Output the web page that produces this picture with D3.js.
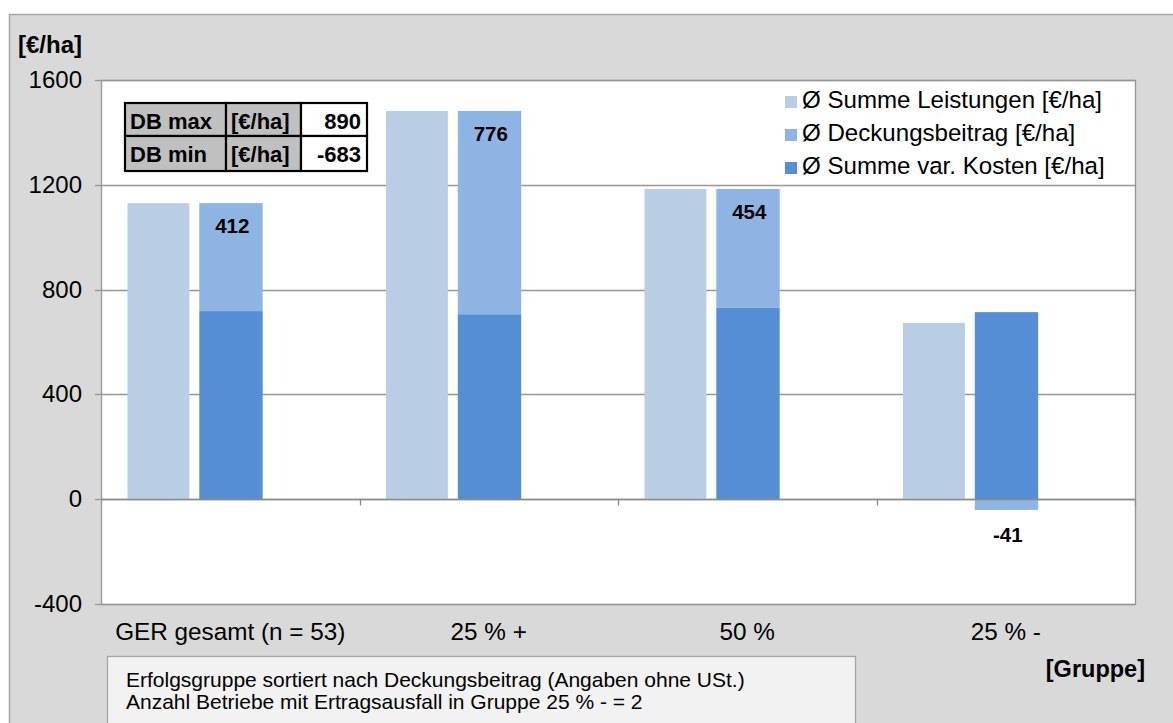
<!DOCTYPE html>
<html><head><meta charset="utf-8">
<script src="https://cdn.jsdelivr.net/npm/d3@7"></script>
<style>
body{margin:0;background:#fff}
svg{display:block}
text{font-family:"Liberation Sans",Arial,sans-serif}
</style>
</head><body>
<svg id="chart" width="1173" height="723"></svg>
<script>
// Erfolgsgruppen und Mittelwerte je Gruppe [€/ha]
const groups = ["GER gesamt (n = 53)", "25 % +", "50 %", "25 % -"];
const leistungen = [1130, 1482, 1184, 673];
const kosten = [718, 706, 730, 714];
const deckungsbeitrag = [412, 776, 454, -41];
const yTicks = [-400, 0, 400, 800, 1200, 1600];
const seriesNames = ["Ø Summe Leistungen [€/ha]", "Ø Deckungsbeitrag [€/ha]", "Ø Summe var. Kosten [€/ha]"];
const seriesColors = ["#b9cde5", "#8eb4e3", "#558ed5"];
const dbTable = [["DB max", "[€/ha]", "890"], ["DB min", "[€/ha]", "-683"]];
const notes = ["Erfolgsgruppe sortiert nach Deckungsbeitrag (Angaben ohne USt.)",
               "Anzahl Betriebe mit Ertragsausfall in Gruppe 25 % - = 2"];

const svg = d3.select("#chart");
const plot = {left: 101, right: 1135, top: 80, bottom: 604};

// Chart background frame
svg.append("rect").attr("x", 9.5).attr("y", 14.5).attr("width", 1200).attr("height", 760)
  .attr("fill", "#d9d9d9").attr("stroke", "#a6a6a6").attr("stroke-width", 1.5);
svg.append("rect").attr("x", plot.left).attr("y", plot.top)
  .attr("width", plot.right - plot.left).attr("height", plot.bottom - plot.top)
  .attr("fill", "#fff");

const x = d3.scaleBand().domain(groups).range([plot.left, plot.right]).padding(0);
const slot = d3.scaleBand().domain(["L", "S", "E"]).range([0, x.bandwidth()])
  .paddingInner(0.15).paddingOuter(0.35);
const y = d3.scaleLinear().domain([-400, 1600]).range([plot.bottom, plot.top]);

// Horizontal gridlines
svg.append("g").selectAll("line").data(yTicks).join("line")
  .attr("x1", plot.left).attr("x2", plot.right)
  .attr("y1", d => Math.round(y(d)) + 0.5).attr("y2", d => Math.round(y(d)) + 0.5)
  .attr("stroke", "#969696").attr("stroke-width", 1.3);

// Leistungen bars
svg.append("g").selectAll("rect").data(groups).join("rect")
  .attr("x", g => x(g) + slot("L") + 1).attr("width", slot.bandwidth())
  .attr("y", (g, i) => y(leistungen[i]))
  .attr("height", (g, i) => y(0) - y(leistungen[i]))
  .attr("fill", seriesColors[0]);

// Stacked Kosten + Deckungsbeitrag
const rows = groups.map((g, i) => ({group: g, kosten: kosten[i], db: deckungsbeitrag[i]}));
const stacked = d3.stack().keys(["kosten", "db"]).offset(d3.stackOffsetDiverging)(rows);
const stackColors = {kosten: seriesColors[2], db: seriesColors[1]};
svg.append("g").selectAll("g").data(stacked).join("g")
  .attr("fill", s => stackColors[s.key])
  .selectAll("rect").data(s => s).join("rect")
  .attr("x", d => x(d.data.group) + slot("S")).attr("width", slot.bandwidth() + 1.5)
  .attr("y", d => y(Math.max(d[0], d[1])))
  .attr("height", d => Math.abs(y(d[0]) - y(d[1])));

// Deckungsbeitrag labels
const dbSeries = stacked.find(s => s.key === "db");
svg.append("g").selectAll("text").data(dbSeries).join("text")
  .attr("x", d => x(d.data.group) + slot("S") + slot.bandwidth() / 2 + 2)
  .attr("y", d => d.data.db >= 0 ? y(d[1]) + 30 : y(d[0]) + 32)
  .attr("text-anchor", "middle").attr("font-size", 20.5).attr("font-weight", "bold")
  .text(d => d.data.db);

// Plot border and zero axis
svg.append("rect").attr("x", plot.left + 0.5).attr("y", plot.top + 0.5)
  .attr("width", plot.right - plot.left).attr("height", plot.bottom - plot.top)
  .attr("fill", "none").attr("stroke", "#969696").attr("stroke-width", 1.3);
const zeroY = Math.round(y(0)) + 0.5;
svg.append("line").attr("x1", plot.left).attr("x2", plot.right)
  .attr("y1", zeroY).attr("y2", zeroY).attr("stroke", "#8c8c8c").attr("stroke-width", 1.5);

// Category tick marks on zero line
const bounds = groups.map(g => x(g)).concat([plot.right]);
svg.append("g").selectAll("line").data(bounds.slice(1)).join("line")
  .attr("x1", d => Math.round(d) + 0.5).attr("x2", d => Math.round(d) + 0.5)
  .attr("y1", zeroY).attr("y2", zeroY + 6).attr("stroke", "#8c8c8c").attr("stroke-width", 1.3);

// Y axis ticks and labels
const yAxis = svg.append("g");
yAxis.selectAll("line").data(yTicks).join("line")
  .attr("x1", plot.left - 6).attr("x2", plot.left)
  .attr("y1", d => Math.round(y(d)) + 0.5).attr("y2", d => Math.round(y(d)) + 0.5)
  .attr("stroke", "#969696").attr("stroke-width", 1.3);
yAxis.selectAll("text").data(yTicks).join("text")
  .attr("x", 82).attr("y", d => y(d) + 8)
  .attr("text-anchor", "end").attr("font-size", 24).text(d => d);
svg.append("text").attr("x", 18).attr("y", 53).attr("font-size", 24)
  .attr("font-weight", "bold").text("[€/ha]");

// Category labels
svg.append("g").selectAll("text").data(groups).join("text")
  .attr("x", g => x(g) + x.bandwidth() / 2).attr("y", 640)
  .attr("text-anchor", "middle").attr("font-size", 24.3).text(g => g);
svg.append("text").attr("x", 1145).attr("y", 677).attr("text-anchor", "end")
  .attr("font-size", 23.5).attr("font-weight", "bold").text("[Gruppe]");

// Legend
const legend = svg.append("g").selectAll("g").data(seriesNames).join("g")
  .attr("transform", (d, i) => `translate(785, ${108 + i * 33})`);
legend.append("rect").attr("x", 0).attr("y", -12).attr("width", 12).attr("height", 12)
  .attr("fill", (d, i) => seriesColors[i]);
legend.append("text").attr("x", 17).attr("y", 0).attr("font-size", 24.1).text(d => d);

// DB max / min table
const colX = [125, 226, 301, 367];
const rowY = [103, 136, 171];
const table = svg.append("g");
dbTable.forEach((row, r) => {
  row.forEach((cell, c) => {
    table.append("rect").attr("x", colX[c]).attr("y", rowY[r])
      .attr("width", colX[c + 1] - colX[c]).attr("height", rowY[r + 1] - rowY[r])
      .attr("fill", c < 2 ? "#c0c0c0" : "#fff").attr("stroke", "#000").attr("stroke-width", 2.2);
    table.append("text")
      .attr("x", c === 2 ? colX[3] - 6 : colX[c] + 5)
      .attr("y", rowY[r] + 26)
      .attr("text-anchor", c === 2 ? "end" : "start")
      .attr("font-size", 22).attr("font-weight", "bold").text(cell);
  });
});

// Note box
svg.append("rect").attr("x", 107.5).attr("y", 656.5).attr("width", 748).attr("height", 90)
  .attr("fill", "#f2f2f2").attr("stroke", "#a6a6a6").attr("stroke-width", 1.3);
svg.append("g").selectAll("text").data(notes).join("text")
  .attr("x", 126).attr("y", (d, i) => 687 + i * 22)
  .attr("font-size", 21).text(d => d);
</script>
</body></html>
